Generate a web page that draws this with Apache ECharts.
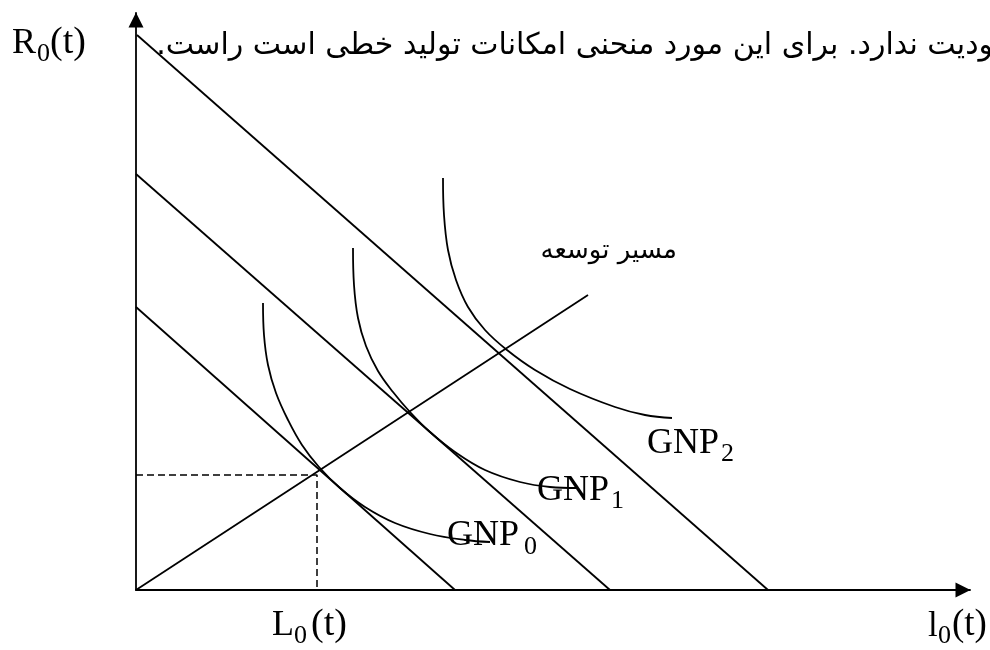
<!DOCTYPE html>
<html>
<head>
<meta charset="utf-8">
<script src="https://cdn.jsdelivr.net/npm/echarts@6/dist/echarts.min.js"></script>
<style>
  html, body { margin: 0; padding: 0; background: #fff; }
  #chart { width: 990px; height: 650px; }
</style>
</head>
<body>
<div id="chart"></div>
<script>
// 单位：以坐标原点为起点的像素值（x 向右，y 向上）
const budget0 = [[0, 283], [319, 0]];
const budget1 = [[0, 416], [474, 0]];
const budget2 = [[1, 555], [632, 0]];
const expansionPath = [[0, 0], [452, 295]];
const guideL0 = [[0, 115], [181, 115], [181, 0]];

const gnp0 = [[127, 287], [128, 255], [132, 225], [140, 197], [152, 170], [166, 145], [183, 123], [204, 102], [229, 83], [259, 67], [294, 56], [329, 50], [354, 48]];
const gnp1 = [[217, 342], [218, 305], [222, 272], [230, 244], [242, 219], [257, 198], [274, 178], [294, 158], [319, 138], [349, 120], [384, 108], [414, 103], [441, 102]];
const gnp2 = [[307, 412], [308, 375], [312, 340], [320, 310], [332, 283], [349, 260], [371, 240], [399, 220], [434, 201], [479, 183], [509, 175], [536, 172]];

const headText = 'ودیت ندارد. برای این مورد منحنی امکانات تولید خطی است راست.\u200F';
const pathText = 'مسیر توسعه';

const chart = echarts.init(document.getElementById('chart'));

const ink = '#000';
const serif = '"Liberation Serif", "Times New Roman", serif';

// 单个文字片段（按基线定位）
const piece = (text, x, base, size) => ({
  type: 'text',
  x: x,
  y: base - 0.805 * size,
  silent: true,
  style: {
    text: text,
    font: size + 'px ' + serif,
    fill: ink,
    align: 'left',
    textAlign: 'left',
    verticalAlign: 'top',
    textVerticalAlign: 'top'
  }
});

const arabic = (text, right, base, size) => ({
  type: 'text',
  x: right,
  y: base - 0.8 * size,
  silent: true,
  style: {
    text: text,
    font: size + 'px "DejaVu Sans"',
    fill: ink,
    align: 'right',
    textAlign: 'right',
    verticalAlign: 'top',
    textVerticalAlign: 'top'
  }
});

const axisCommon = {
  type: 'value',
  min: 0,
  axisLine: {
    show: true,
    onZero: false,
    symbol: ['none', 'triangle'],
    symbolSize: [15, 15],
    symbolOffset: [0, -7],
    lineStyle: { color: ink, width: 1.8 }
  },
  axisTick: { show: false },
  axisLabel: { show: false },
  splitLine: { show: false }
};

const line = (name, data, extra) => ({
  name: name,
  type: 'line',
  data: data,
  symbol: 'none',
  clip: false,
  silent: true,
  lineStyle: Object.assign({ color: ink, width: 1.8 }, extra || {})
});

const curve = (name, data) => Object.assign(line(name, data), { smooth: 0.4 });

const option = {
  animation: false,
  backgroundColor: '#fff',
  grid: { left: 136, right: 20, top: 13, bottom: 60 },
  xAxis: Object.assign({}, axisCommon, { max: 834 }),
  yAxis: Object.assign({}, axisCommon, { max: 577 }),
  series: [
    line('budget0', budget0),
    line('budget1', budget1),
    line('budget2', budget2),
    line('path', expansionPath),
    line('guide', guideL0, { type: [7, 4], width: 1.5 }),
    curve('GNP0', gnp0),
    curve('GNP1', gnp1),
    curve('GNP2', gnp2)
  ],
  graphic: [
    arabic(headText, 993, 55, 30),
    arabic(pathText, 677, 259, 26),
    // 坐标轴名称
    piece('R', 12, 55, 36),
    piece('0', 37, 62, 26),
    piece('(t)', 50, 55, 38),
    piece('L', 272, 637, 36),
    piece('0', 294, 644, 26),
    piece('(t)', 311, 637, 38),
    piece('l', 928, 637, 35),
    piece('0', 938, 644, 26),
    piece('(t)', 952, 637, 37),
    // 曲线标签
    piece('GNP', 447, 547, 36),
    piece('0', 524, 555, 26),
    piece('GNP', 537, 502, 36),
    piece('1', 611, 509, 26),
    piece('GNP', 647, 455, 36),
    piece('2', 721, 462, 26)
  ]
};

chart.setOption(option);
</script>
</body>
</html>
